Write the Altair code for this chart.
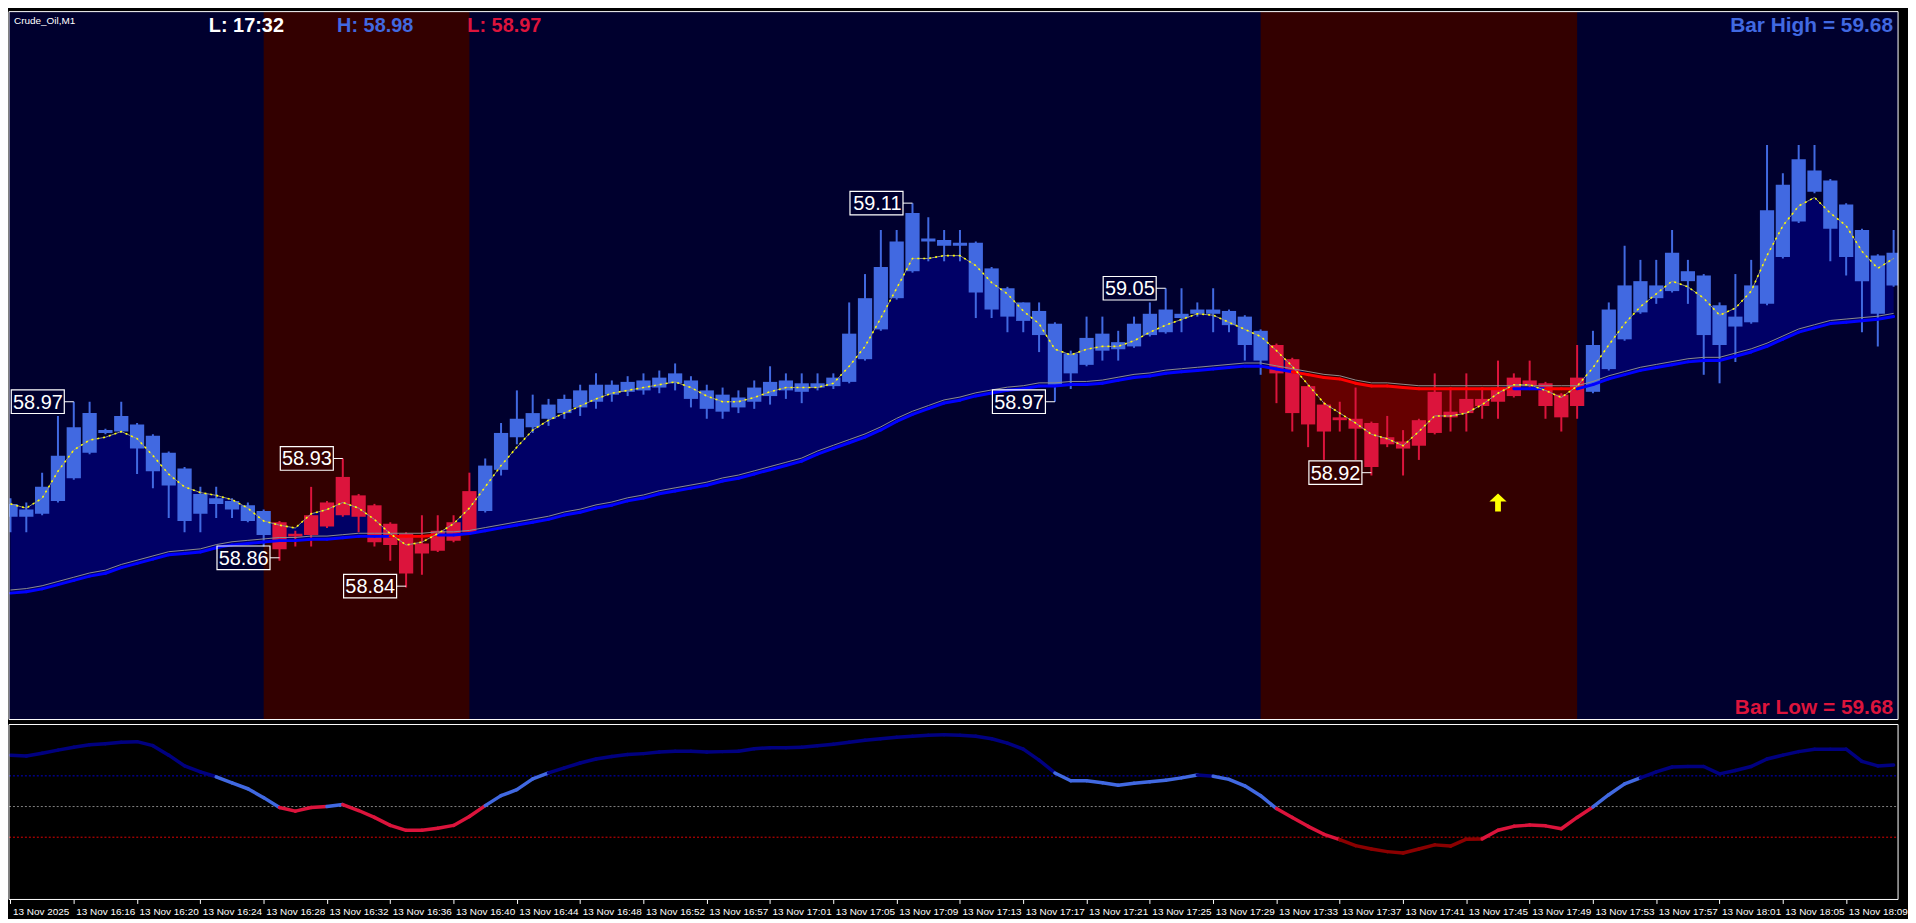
import altair as alt
import pandas as pd

# ---------------- data ----------------
HIGH = [58.902, 58.899, 58.920, 58.960, 58.970, 58.970, 58.951, 58.970, 58.955, 58.947,
        58.935, 58.924, 58.910, 58.910, 58.902, 58.899, 58.894, 58.886, 58.879, 58.910,
        58.900, 58.930, 58.905, 58.898, 58.885, 58.878, 58.890, 58.890, 58.890, 58.920,
        58.930, 58.955, 58.978, 58.975, 58.972, 58.975, 58.982, 58.990, 58.985, 58.988,
        58.990, 58.992, 58.997, 58.988, 58.982, 58.980, 58.978, 58.985, 58.995, 58.990,
        58.990, 58.990, 58.990, 59.040, 59.060, 59.091, 59.091, 59.110, 59.100, 59.091,
        59.091, 59.083, 59.065, 59.051, 59.040, 59.040, 59.026, 59.006, 59.030, 59.030,
        59.020, 59.030, 59.040, 59.050, 59.050, 59.040, 59.050, 59.035, 59.031, 59.021,
        59.011, 59.001, 58.982, 58.970, 58.970, 58.980, 58.956, 58.960, 58.950, 58.958,
        58.990, 58.980, 58.990, 58.980, 58.999, 58.990, 58.999, 58.984, 58.976, 59.010,
        59.020, 59.040, 59.080, 59.070, 59.070, 59.091, 59.070, 59.060, 59.040, 59.060,
        59.070, 59.151, 59.131, 59.151, 59.151, 59.127, 59.110, 59.092, 59.074, 59.091]
BODY_HI = [58.898, 58.894, 58.910, 58.932, 58.952, 58.962, 58.950, 58.960, 58.954, 58.946,
           58.934, 58.923, 58.905, 58.902, 58.900, 58.897, 58.893, 58.885, 58.877, 58.890,
           58.899, 58.917, 58.904, 58.897, 58.884, 58.877, 58.870, 58.879, 58.885, 58.907,
           58.925, 58.948, 58.958, 58.962, 58.968, 58.972, 58.978, 58.982, 58.982, 58.984,
           58.985, 58.987, 58.990, 58.985, 58.978, 58.975, 58.973, 58.980, 58.984, 58.985,
           58.983, 58.983, 58.987, 59.018, 59.043, 59.065, 59.083, 59.103, 59.085, 59.084,
           59.082, 59.082, 59.064, 59.050, 59.040, 59.034, 59.025, 59.004, 59.015, 59.018,
           59.012, 59.025, 59.032, 59.035, 59.032, 59.035, 59.035, 59.034, 59.030, 59.020,
           59.010, 59.000, 58.981, 58.968, 58.959, 58.958, 58.955, 58.945, 58.942, 58.957,
           58.977, 58.963, 58.972, 58.972, 58.980, 58.987, 58.985, 58.983, 58.975, 58.987,
           59.010, 59.035, 59.052, 59.055, 59.052, 59.075, 59.062, 59.059, 59.038, 59.030,
           59.052, 59.105, 59.123, 59.141, 59.133, 59.126, 59.109, 59.091, 59.073, 59.075]
BODY_LO = [58.889, 58.889, 58.891, 58.900, 58.916, 58.934, 58.948, 58.949, 58.937, 58.921,
           58.911, 58.886, 58.891, 58.898, 58.894, 58.886, 58.876, 58.866, 58.875, 58.876,
           58.882, 58.890, 58.889, 58.871, 58.869, 58.849, 58.863, 58.865, 58.872, 58.878,
           58.893, 58.922, 58.945, 58.952, 58.958, 58.962, 58.966, 58.970, 58.975, 58.977,
           58.978, 58.980, 58.983, 58.972, 58.965, 58.963, 58.966, 58.970, 58.974, 58.978,
           58.977, 58.980, 58.981, 58.984, 59.000, 59.021, 59.043, 59.062, 59.083, 59.080,
           59.080, 59.047, 59.035, 59.030, 59.027, 59.017, 58.982, 58.990, 58.996, 59.006,
           59.007, 59.009, 59.017, 59.019, 59.029, 59.032, 59.032, 59.024, 59.010, 58.999,
           58.990, 58.962, 58.954, 58.949, 58.957, 58.951, 58.924, 58.940, 58.937, 58.939,
           58.948, 58.959, 58.962, 58.967, 58.970, 58.974, 58.981, 58.967, 58.959, 58.967,
           58.977, 58.993, 59.014, 59.033, 59.043, 59.048, 59.055, 59.017, 59.010, 59.023,
           59.026, 59.039, 59.072, 59.097, 59.118, 59.092, 59.072, 59.055, 59.032, 59.052]
LOW = [58.878, 58.878, 58.890, 58.899, 58.915, 58.933, 58.947, 58.948, 58.919, 58.909,
       58.888, 58.878, 58.878, 58.888, 58.888, 58.885, 58.868, 58.858, 58.868, 58.868,
       58.881, 58.889, 58.878, 58.868, 58.858, 58.839, 58.848, 58.864, 58.871, 58.877,
       58.892, 58.918, 58.940, 58.948, 58.953, 58.958, 58.960, 58.965, 58.970, 58.974,
       58.975, 58.976, 58.978, 58.966, 58.958, 58.958, 58.962, 58.965, 58.968, 58.972,
       58.969, 58.978, 58.979, 58.983, 58.999, 59.020, 59.042, 59.061, 59.069, 59.069,
       59.069, 59.029, 59.029, 59.019, 59.019, 59.005, 58.970, 58.979, 58.995, 58.999,
       58.999, 59.008, 59.016, 59.018, 59.019, 59.030, 59.019, 59.019, 58.999, 58.989,
       58.969, 58.949, 58.938, 58.929, 58.949, 58.929, 58.918, 58.938, 58.918, 58.929,
       58.947, 58.949, 58.949, 58.958, 58.958, 58.973, 58.979, 58.958, 58.949, 58.958,
       58.976, 58.992, 59.013, 59.032, 59.039, 59.047, 59.039, 58.989, 58.983, 58.998,
       59.025, 59.038, 59.071, 59.096, 59.117, 59.069, 59.059, 59.019, 59.009, 59.051]
FAST_MA = [58.898, 58.895, 58.902, 58.921, 58.936, 58.943, 58.945, 58.949, 58.944, 58.932,
           58.919, 58.910, 58.906, 58.904, 58.901, 58.895, 58.886, 58.883, 58.881, 58.891,
           58.894, 58.899, 58.895, 58.887, 58.877, 58.869, 58.871, 58.877, 58.884, 58.895,
           58.910, 58.925, 58.938, 58.950, 58.957, 58.962, 58.967, 58.972, 58.976, 58.978,
           58.980, 58.982, 58.984, 58.980, 58.974, 58.970, 58.970, 58.973, 58.977, 58.980,
           58.980, 58.980, 58.983, 58.995, 59.009, 59.029, 59.050, 59.071, 59.071, 59.073,
           59.073, 59.066, 59.054, 59.046, 59.034, 59.025, 59.007, 59.003, 59.007, 59.009,
           59.009, 59.013, 59.019, 59.024, 59.028, 59.032, 59.031, 59.026, 59.021, 59.016,
           59.006, 58.995, 58.982, 58.969, 58.962, 58.955, 58.947, 58.944, 58.939, 58.949,
           58.960, 58.960, 58.962, 58.968, 58.976, 58.982, 58.982, 58.978, 58.973, 58.981,
           58.994, 59.010, 59.025, 59.037, 59.046, 59.055, 59.051, 59.043, 59.031, 59.036,
           59.048, 59.073, 59.094, 59.108, 59.114, 59.103, 59.094, 59.076, 59.064, 59.071]
SLOW_MA = [58.836, 58.837, 58.839, 58.842, 58.845, 58.848, 58.850, 58.854, 58.857, 58.860,
           58.863, 58.864, 58.865, 58.868, 58.870, 58.871, 58.872, 58.873, 58.873, 58.874,
           58.874, 58.875, 58.876, 58.876, 58.876, 58.876, 58.876, 58.877, 58.877, 58.878,
           58.880, 58.882, 58.884, 58.886, 58.888, 58.891, 58.893, 58.896, 58.898, 58.901,
           58.903, 58.906, 58.908, 58.910, 58.912, 58.915, 58.917, 58.920, 58.923, 58.926,
           58.929, 58.934, 58.938, 58.942, 58.946, 58.951, 58.957, 58.962, 58.966, 58.970,
           58.972, 58.975, 58.977, 58.979, 58.980, 58.982, 58.982, 58.983, 58.983, 58.984,
           58.986, 58.988, 58.989, 58.991, 58.992, 58.993, 58.994, 58.995, 58.996, 58.996,
           58.994, 58.992, 58.990, 58.988, 58.987, 58.984, 58.982, 58.982, 58.981, 58.980,
           58.980, 58.980, 58.980, 58.980, 58.980, 58.980, 58.980, 58.980, 58.980, 58.980,
           58.983, 58.987, 58.990, 58.993, 58.995, 58.997, 58.999, 59.000, 59.000, 59.003,
           59.006, 59.010, 59.015, 59.020, 59.023, 59.026, 59.027, 59.028, 59.029, 59.031]
OSC = [83.5, 82.9, 84.8, 86.8, 88.7, 90.3, 91.0, 91.9, 92.3, 89.7,
       83.5, 76.5, 72.6, 69.4, 65.5, 61.6, 55.8, 49.4, 47.0, 49.4,
       50.0, 51.3, 47.4, 42.9, 37.7, 34.5, 34.5, 35.8, 37.7, 43.5,
       50.6, 57.1, 61.0, 68.0, 71.9, 75.2, 78.4, 81.0, 82.6, 83.9,
       84.5, 85.5, 86.1, 86.1, 85.5, 85.8, 86.1, 87.7, 88.4, 88.4,
       88.7, 89.7, 90.6, 91.9, 93.2, 94.2, 95.2, 95.8, 96.5, 96.8,
       96.5, 95.8, 94.2, 91.3, 87.4, 80.3, 71.9, 66.8, 66.8, 65.5,
       63.9, 65.2, 66.1, 67.1, 68.7, 70.6, 69.7, 67.7, 63.5, 57.1,
       48.7, 42.9, 37.1, 31.9, 28.4, 24.5, 22.3, 20.6, 19.7, 22.3,
       25.0, 24.2, 28.7, 28.9, 34.5, 37.1, 37.9, 37.4, 35.5, 42.9,
       49.7, 57.7, 64.8, 68.7, 72.6, 75.8, 76.1, 76.1, 71.3, 73.5,
       76.1, 81.0, 83.5, 85.8, 87.4, 87.4, 87.4, 79.4, 76.5, 77.1]
OSC_LEVELS = [70, 50, 30]
RED_ZONE_START = [16, 79]
RED_ZONE_END = [29, 99]
TICK_LABELS = ["13 Nov 2025", "13 Nov 16:16", "13 Nov 16:20", "13 Nov 16:24", "13 Nov 16:28",
               "13 Nov 16:32", "13 Nov 16:36", "13 Nov 16:40", "13 Nov 16:44", "13 Nov 16:48",
               "13 Nov 16:52", "13 Nov 16:57", "13 Nov 17:01", "13 Nov 17:05", "13 Nov 17:09",
               "13 Nov 17:13", "13 Nov 17:17", "13 Nov 17:21", "13 Nov 17:25", "13 Nov 17:29",
               "13 Nov 17:33", "13 Nov 17:37", "13 Nov 17:41", "13 Nov 17:45", "13 Nov 17:49",
               "13 Nov 17:53", "13 Nov 17:57", "13 Nov 18:01", "13 Nov 18:05", "13 Nov 18:09"]
TICK_STEP = 4
MARK_BAR = [4, 17, 21, 25, 57, 66, 73, 86]
MARK_PRICE = [58.97, 58.86, 58.93, 58.84, 59.11, 58.97, 59.05, 58.92]
ARROW_BAR = [94]
ARROW_PRICE = [58.899]
SYMBOL = "Crude_Oil,M1"
HEADER_TIME = "L: 17:32"
HEADER_HIGH = "H: 58.98"
HEADER_LOW = "L: 58.97"
BAR_HIGH_TEXT = "Bar High = 59.68"
BAR_LOW_TEXT = "Bar Low = 59.68"

# ---------------- styling ----------------
W, H1, H2 = 1900, 712, 176
NAVY_BG, RED_BG = "#00002E", "#330000"
BULL, BEAR = "#4169E1", "#DC143C"
FONT = "Liberation Sans"
N = len(HIGH)
ARROW_PATH = "M0,-1L0.95,-0.1L0.32,-0.1L0.32,1L-0.32,1L-0.32,-0.1L-0.95,-0.1Z"

xs = alt.Scale(domain=[-0.094, 119.28], nice=False, zero=False)
ys = alt.Scale(domain=[58.746, 59.245], nice=False, zero=False)
ys2 = alt.Scale(domain=[-10.6, 103.5], nice=False, zero=False)


def X(f, **kw):
    return alt.X(f"{f}:Q", scale=xs, axis=None, **kw)


def Y(f):
    return alt.Y(f"{f}:Q", scale=ys, axis=None)


def in_red(i):
    return any(s < i <= e for s, e in zip(RED_ZONE_START, RED_ZONE_END))


candles = pd.DataFrame({
    "i": range(N), "high": HIGH, "low": LOW, "bhi": BODY_HI, "blo": BODY_LO,
})
candles["col"] = [BEAR if in_red(i) else BULL for i in range(N)]
candles["bx0"] = candles["i"] - 0.45
candles["bx1"] = candles["i"] + 0.45

ma = pd.DataFrame({"i": range(N), "fast": FAST_MA, "slow": SLOW_MA})
ma["up"] = ma[["fast", "slow"]].max(axis=1)
ma["dn"] = ma[["fast", "slow"]].min(axis=1)
ma["slow_g"] = ma["slow"] + 0.0013

seg = pd.DataFrame({
    "x0": list(range(N - 1)), "x1": list(range(1, N)),
    "y0": [v - 0.0009 for v in SLOW_MA[:-1]], "y1": [v - 0.0009 for v in SLOW_MA[1:]],
})
seg["col"] = ["#FF0000" if (FAST_MA[k] - SLOW_MA[k] + FAST_MA[k + 1] - SLOW_MA[k + 1]) < 0
              else "#0000FF" for k in range(N - 1)]

zones = pd.DataFrame({"s": RED_ZONE_START, "e": RED_ZONE_END})

marks = pd.DataFrame({"bar": MARK_BAR, "price": MARK_PRICE})
marks["cx0"] = marks["bar"] - 0.6
marks["bxl"] = marks["cx0"] - 3.35
marks["py0"] = marks["price"] - 0.0083
marks["py1"] = marks["price"] + 0.0083

arrow = pd.DataFrame({"i": ARROW_BAR, "p": ARROW_PRICE})
one = pd.DataFrame({"k": [0]})

bg = alt.Chart(one).mark_rect(color=NAVY_BG).encode(
    x=alt.value(0), x2=alt.value(W), y=alt.value(0), y2=alt.value(H1))
zone_l = alt.Chart(zones).mark_rect(color=RED_BG, clip=True).encode(
    x=X("s"), x2="e", y=alt.value(0), y2=alt.value(H1))
fill_up = alt.Chart(ma).mark_area(color="#000066", clip=True).encode(x=X("i"), y=Y("up"), y2="slow")
fill_dn = alt.Chart(ma).mark_area(color="#660000", clip=True).encode(x=X("i"), y=Y("slow"), y2="dn")
wick = alt.Chart(candles).mark_rule(strokeWidth=2, clip=True).encode(
    x=X("i"), y=Y("low"), y2="high", color=alt.Color("col:N", scale=None))
body = alt.Chart(candles).mark_rect(clip=True).encode(
    x=X("bx0"), x2="bx1", y=Y("bhi"), y2="blo", color=alt.Color("col:N", scale=None))
slow_l = alt.Chart(seg).mark_rule(strokeWidth=3, strokeCap="round", clip=True).encode(
    x=X("x0"), x2="x1", y=Y("y0"), y2="y1", color=alt.Color("col:N", scale=None))
slow_g = alt.Chart(ma).mark_line(color="#8C8C8C", strokeWidth=1, clip=True).encode(x=X("i"), y=Y("slow_g"))
fast_g = alt.Chart(ma).mark_line(color="#8C8C8C", strokeWidth=1, clip=True).encode(x=X("i"), y=Y("fast"))
fast_y = alt.Chart(ma).mark_line(color="#FFFF00", strokeWidth=1.6, strokeDash=[2, 4], clip=True).encode(
    x=X("i"), y=Y("fast"))
box = alt.Chart(marks).mark_rect(fillOpacity=0, stroke="#FFFFFF", strokeWidth=1.2).encode(
    x=X("bxl"), x2="cx0", y=Y("py0"), y2="py1")
conn = alt.Chart(marks).mark_rule(color="#FFFFFF", strokeWidth=1).encode(x=X("cx0"), x2="bar", y=Y("price"))
mtext = alt.Chart(marks).mark_text(align="right", baseline="middle", color="#FFFFFF", font=FONT,
                                   fontSize=20, dx=-1.5, dy=1).encode(
    x=X("cx0"), y=Y("price"), text=alt.Text("price:Q", format=".2f"))
arrow_l = alt.Chart(arrow).mark_point(shape=ARROW_PATH, filled=True, color="#FFFF00", opacity=1,
                                      size=330).encode(x=X("i"), y=Y("p"))


def label(txt, x, y, color, size, weight="bold", align="left"):
    return alt.Chart(one).mark_text(text=txt, color=color, font=FONT, fontSize=size, fontWeight=weight,
                                    align=align, baseline="alphabetic").encode(x=alt.value(x), y=alt.value(y))


t_sym = label(SYMBOL, 5, 12, "#FFFFFF", 10, weight="normal")
t_time = label(HEADER_TIME, 201, 21, "#FFFFFF", 20)
t_hi = label(HEADER_HIGH, 330, 21, BULL, 20)
t_lo = label(HEADER_LOW, 461, 21, BEAR, 20)
t_bh = label(BAR_HIGH_TEXT, 1895, 21, BULL, 21, align="right")
t_bl = label(BAR_LOW_TEXT, 1895, 706, BEAR, 21, align="right")
border1 = alt.Chart(one).mark_rect(fillOpacity=0, stroke="#FFFFFF", strokeWidth=1).encode(
    x=alt.value(0), x2=alt.value(W), y=alt.value(0), y2=alt.value(H1))

main = alt.layer(bg, zone_l, fill_up, fill_dn, wick, body, slow_l, slow_g, fast_g, fast_y,
                 box, conn, mtext, arrow_l, t_sym, t_time, t_hi, t_lo, t_bh, t_bl, border1
                 ).properties(width=W, height=H1)


# ---------------- indicator panel ----------------
def osc_col(v):
    if v > 70:
        return "#000080"
    if v > 50:
        return "#4169E1"
    if v > 30:
        return "#DC143C"
    return "#8B0000"


oseg = pd.DataFrame({"x0": list(range(N - 1)), "x1": list(range(1, N)), "y0": OSC[:-1], "y1": OSC[1:]})
oseg["col"] = [osc_col((OSC[k] + OSC[k + 1]) / 2) for k in range(N - 1)]
lev = pd.DataFrame({"lvl": OSC_LEVELS, "col": ["#0000CD", "#808080", "#E00000"]})

labels_js = "[" + ",".join(f"'{t}'" for t in TICK_LABELS) + "]"
x_axis = alt.Axis(values=[k * TICK_STEP for k in range(len(TICK_LABELS))],
                  labelExpr=f"{labels_js}[round(datum.value/{TICK_STEP})]",
                  labelAlign="left", labelBaseline="top", labelColor="#FFFFFF", labelFont=FONT,
                  labelFontSize=10, labelPadding=3, labelOffset=2, labelOverlap=False, labelFlush=False,
                  labelBound=False, tickColor="#FFFFFF", tickSize=4, tickWidth=1, domain=False, grid=False,
                  title=None, orient="bottom")

levels = alt.Chart(lev).mark_rule(strokeDash=[2, 2], strokeWidth=1).encode(
    x=alt.value(0), x2=alt.value(W), y=alt.Y("lvl:Q", scale=ys2, axis=None),
    color=alt.Color("col:N", scale=None))
osc_l = alt.Chart(oseg).mark_rule(strokeWidth=3.5, strokeCap="round").encode(
    x=alt.X("x0:Q", scale=xs, axis=x_axis), x2="x1",
    y=alt.Y("y0:Q", scale=ys2, axis=None), y2="y1", color=alt.Color("col:N", scale=None))
border2 = alt.Chart(one).mark_rect(fillOpacity=0, stroke="#FFFFFF", strokeWidth=1).encode(
    x=alt.value(0), x2=alt.value(W), y=alt.value(0), y2=alt.value(H2))

ind = alt.layer(levels, osc_l, border2).properties(width=W, height=H2)

chart = alt.vconcat(main, ind, spacing=3).properties(padding=0, background="#000000").configure_view(
    strokeWidth=0)

chart.save("out.html", embed_options={"renderer": "svg", "actions": False})
